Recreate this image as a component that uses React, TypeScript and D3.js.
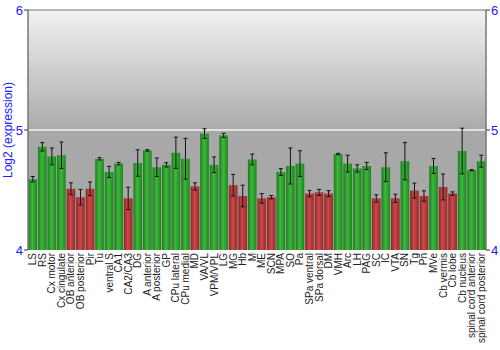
import { useMemo } from 'react'
import * as d3 from 'd3'

const regions = [
  'LS', 'RS', 'Cx motor', 'Cx cingulate', 'OB anterior', 'OB posterior', 'Pir', 'Tu',
  'ventral S', 'CA1', 'CA2/CA3', 'DG', 'A anterior', 'A posterior', 'GP', 'CPu lateral',
  'CPu medial', 'MD', 'VA/VL', 'VPM/VPL', 'LG', 'MG', 'Hb', 'M', 'ME', 'SCN', 'MPA', 'SO',
  'Pa', 'SPa ventral', 'SPa dorsal', 'DM', 'VMH', 'Arc', 'LH', 'PAG', 'SC', 'IC', 'VTA',
  'SN', 'Tg', 'Pn', 'MVe', 'Cb vermis', 'Cb lobe', 'Cb nucleus', 'spinal cord anterior',
  'spinal cord posterior',
]

const meanExpr = [
  4.59, 4.86, 4.78, 4.79, 4.51, 4.44, 4.51, 4.76,
  4.65, 4.72, 4.43, 4.725, 4.83, 4.69, 4.71, 4.81,
  4.76, 4.53, 4.97, 4.71, 4.955, 4.54, 4.45, 4.755, 4.43, 4.44, 4.65, 4.70,
  4.72, 4.47, 4.48, 4.47, 4.80, 4.72, 4.68, 4.70, 4.43, 4.69, 4.43,
  4.74, 4.495, 4.45, 4.70, 4.525, 4.47, 4.825, 4.665,
  4.74,
]

const errExpr = [
  0.022, 0.035, 0.07, 0.11, 0.05, 0.065, 0.057, 0.01,
  0.047, 0.01, 0.093, 0.11, 0.006, 0.077, 0.018, 0.13,
  0.17, 0.03, 0.04, 0.065, 0.017, 0.09, 0.09, 0.045, 0.04, 0.014, 0.028, 0.15,
  0.107, 0.026, 0.025, 0.025, 0.006, 0.07, 0.03, 0.03, 0.03, 0.12, 0.035,
  0.155, 0.062, 0.043, 0.062, 0.108, 0.014, 0.19, 0.005,
  0.05,
]

// regions drawn in red (lower expression group)
const lowRegions = new Set([
  'OB anterior', 'OB posterior', 'Pir', 'CA2/CA3', 'MD', 'MG', 'Hb', 'ME', 'SCN',
  'SPa ventral', 'SPa dorsal', 'DM', 'SC', 'VTA', 'Tg', 'Pn', 'Cb vermis', 'Cb lobe',
])

const yTicks = [4, 5, 6]

const width = 500
const height = 350
const margin = { top: 10, right: 14, bottom: 100, left: 28 }
const font = 'Liberation Sans, Arial, sans-serif'

export default function App() {
  const x0 = margin.left
  const x1 = width - margin.right
  const y0 = margin.top
  const y1 = height - margin.bottom

  const { x, y } = useMemo(() => {
    const x = d3.scaleBand<string>().domain(regions).range([x0, x1]).paddingInner(0.09).paddingOuter(0.045)
    const y = d3.scaleLinear().domain([4, 6]).range([y1, y0])
    return { x, y }
  }, [])

  const rows = regions.map((name, i) => ({ name, mean: meanExpr[i], err: errExpr[i] }))
  const bw = x.bandwidth()

  return (
    <svg
      width={width}
      height={height}
      style={{ position: 'absolute', left: 0, top: 0, background: '#fff' }}
      fontFamily={font}
    >
      <defs>
        <linearGradient id="bgTop" x1="0" y1="0" x2="0" y2="1">
          <stop offset="0%" stopColor="#f2f2f2" />
          <stop offset="100%" stopColor="#aaaaaa" />
        </linearGradient>
        <linearGradient id="greenBar" x1="0" y1="0" x2="1" y2="0">
          <stop offset="0%" stopColor="#1d7a1d" />
          <stop offset="45%" stopColor="#3db83d" />
          <stop offset="100%" stopColor="#1f841f" />
        </linearGradient>
        <linearGradient id="redBar" x1="0" y1="0" x2="1" y2="0">
          <stop offset="0%" stopColor="#8c2424" />
          <stop offset="45%" stopColor="#cc4a4a" />
          <stop offset="100%" stopColor="#952a2a" />
        </linearGradient>
      </defs>

      <rect x={x0} y={y(6)} width={x1 - x0} height={y(5) - y(6)} fill="url(#bgTop)" />
      <rect x={x0} y={y(5)} width={x1 - x0} height={y(4) - y(5)} fill="#a8a8a8" />
      <line x1={x0} x2={x1} y1={y(5)} y2={y(5)} stroke="#f4f4f4" strokeWidth={1.6} />

      {rows.map((d) => {
        const bx = x(d.name) ?? 0
        const cx = bx + bw / 2
        return (
          <g key={d.name}>
            <rect
              x={bx}
              y={y(d.mean)}
              width={bw}
              height={y(4) - y(d.mean)}
              fill={lowRegions.has(d.name) ? 'url(#redBar)' : 'url(#greenBar)'}
            />
            <line x1={cx} x2={cx} y1={y(d.mean + d.err)} y2={y(d.mean - d.err)} stroke="#111" strokeWidth={1} />
            <line x1={cx - 2} x2={cx + 2} y1={y(d.mean + d.err)} y2={y(d.mean + d.err)} stroke="#111" strokeWidth={1} />
            <line x1={cx - 2} x2={cx + 2} y1={y(d.mean - d.err)} y2={y(d.mean - d.err)} stroke="#111" strokeWidth={1} />
          </g>
        )
      })}

      <line x1={x0} x2={x1} y1={y0} y2={y0} stroke="#777" strokeWidth={1} />
      <line x1={x0} x2={x0} y1={y0} y2={y1} stroke="#777" strokeWidth={1.5} />
      <line x1={x1} x2={x1} y1={y0} y2={y1} stroke="#777" strokeWidth={1.5} />

      {yTicks.map((t) => (
        <g key={t}>
          <line x1={x0 - 4} x2={x0} y1={y(t)} y2={y(t)} stroke="#333" />
          <line x1={x1} x2={x1 + 4} y1={y(t)} y2={y(t)} stroke="#333" />
          <text x={x0 - 5} y={y(t)} dy="0.35em" textAnchor="end" fontSize={13} fill="#2020ff">
            {t}
          </text>
          <text x={x1 + 5} y={y(t)} dy="0.35em" textAnchor="start" fontSize={13} fill="#2020ff">
            {t}
          </text>
        </g>
      ))}

      <text
        transform={`translate(12 ${(y0 + y1) / 2}) rotate(-90)`}
        textAnchor="middle"
        fontSize={12}
        fill="#2020ff"
      >
        Log2 (expression)
      </text>

      {regions.map((name) => (
        <text
          key={name}
          transform={`translate(${(x(name) ?? 0) + bw / 2 + 3.5} ${y1 + 3}) rotate(-90)`}
          textAnchor="end"
          fontSize={10}
          fill="#222"
        >
          {name}
        </text>
      ))}
    </svg>
  )
}
